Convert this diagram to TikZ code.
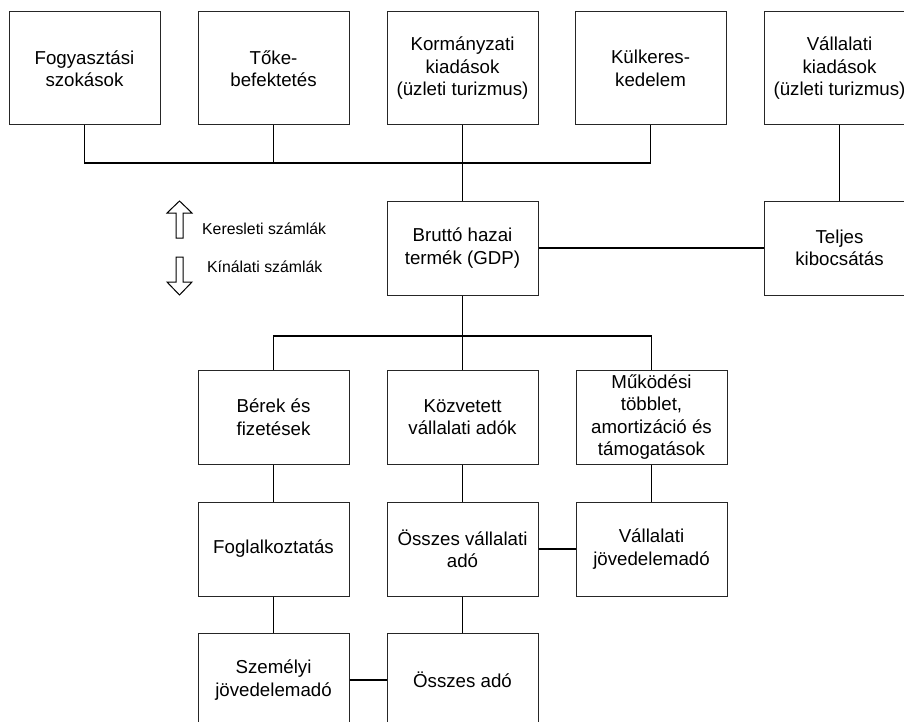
\documentclass[tikz,border=0pt]{standalone}
\usepackage{fontspec}
\setmainfont{Liberation Sans}
\begin{document}
\begin{tikzpicture}[x=1pt,y=-1pt,
  box/.style={draw=black!85,line width=1pt,rectangle,minimum width=151pt,minimum height=94pt,inner sep=0pt,align=center,font=\fontsize{18.7pt}{22.5pt}\selectfont},
  tallbox/.style={box,minimum height=113pt},
  link/.style={draw=black,line width=1.3pt},
  legend/.style={font=\fontsize{15.8pt}{19pt}\selectfont,anchor=west,inner sep=0pt},
  blockarrow/.style={draw=black,line width=1pt,fill=white,line join=miter}]
\useasboundingbox (0,0) rectangle (904,722);
\clip (0,0) rectangle (904,722);
% top row
\node[tallbox] (f1) at (84.5,68.5) {Fogyasztási\\szokások};
\node[tallbox] (f2) at (273.5,68.5) {Tőke-\\befektetés};
\node[tallbox] (f3) at (462.5,68.5) {Kormányzati\\kiadások\\(üzleti turizmus)};
\node[tallbox] (f4) at (650.5,68.5) {Külkeres-\\kedelem};
\node[tallbox] (f5) at (839.5,68.5) {Vállalati\\kiadások\\(üzleti turizmus)};
% middle
\node[box] (gdp) at (462.5,248) {Bruttó hazai\\termék (GDP)};
\node[box] (tel) at (839.5,248) {Teljes\\kibocsátás};
% row 2
\node[box] (r2a) at (273.5,417) {Bérek és\\fizetések};
\node[box] (r2b) at (462.5,417) {Közvetett\\vállalati adók};
\node[box] (r2c) at (651.5,417) {Működési\\többlet,\\amortizáció és\\támogatások};
% row 3
\node[box] (r3a) at (273.5,549) {Foglalkoztatás};
\node[box] (r3b) at (462.5,549) {Összes vállalati\\adó};
\node[box] (r3c) at (651.5,549) {Vállalati\\jövedelemadó};
% row 4
\node[box] (r4a) at (273.5,680) {Személyi\\jövedelemadó};
\node[box] (r4b) at (462.5,680) {Összes adó};
% buses
\coordinate (topbus) at (462.5,163);
\coordinate (midbus) at (462.5,336);
\draw[link] (f1.south) |- (topbus);
\draw[link] (f4.south) |- (topbus);
\draw[link] (f2.south) -- (f2.south |- topbus);
\draw[link] (f3.south) -- (gdp.north);
\draw[link] (f5.south) -- (tel.north);
\draw[link] (gdp.east) -- (tel.west);
\draw[link] (gdp.south) -- (r2b.north);
\draw[link] (r2a.north) |- (midbus);
\draw[link] (r2c.north) |- (midbus);
\draw[link] (r2a.south) -- (r3a.north);
\draw[link] (r2b.south) -- (r3b.north);
\draw[link] (r2c.south) -- (r3c.north);
\draw[link] (r3b.east) -- (r3c.west);
\draw[link] (r3a.south) -- (r4a.north);
\draw[link] (r3b.south) -- (r4b.north);
\draw[link] (r4a.east) -- (r4b.west);
% legend arrows
\draw[blockarrow] (179.5,201) -- (192,213) -- (183,213) -- (183,238) -- (176,238) -- (176,213) -- (167,213) -- cycle;
\draw[blockarrow] (179.5,295) -- (192,282) -- (183,282) -- (183,257) -- (176,257) -- (176,282) -- (167,282) -- cycle;
\node[legend] (dem) at (202,229) {Keresleti számlák};
\node[legend] (sup) at (207,267) {Kínálati számlák};
\end{tikzpicture}
\end{document}
